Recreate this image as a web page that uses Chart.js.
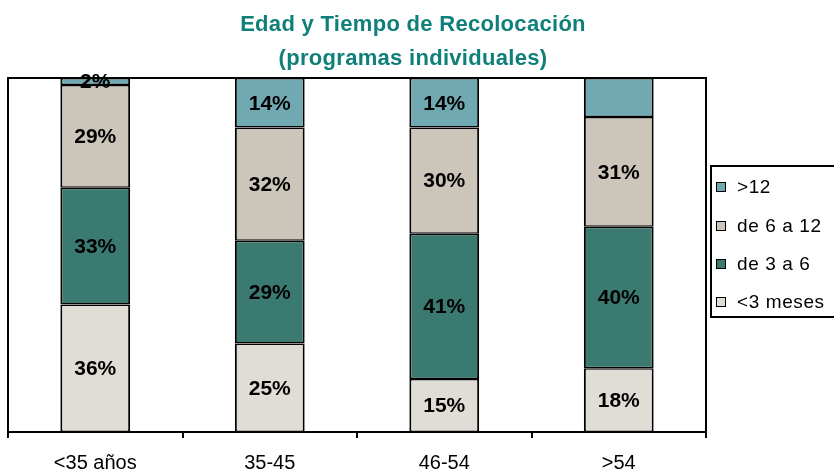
<!DOCTYPE html>
<html>
<head>
<meta charset="utf-8">
<script src="https://cdn.jsdelivr.net/npm/chart.js@4.4.0/dist/chart.umd.min.js"></script>
<style>
  html, body { margin: 0; padding: 0; background: #fff; }
  #wrap { width: 834px; height: 471px; }
</style>
</head>
<body>
<div id="wrap"><canvas id="recolocChart" width="834" height="471"></canvas></div>
<script>
// datos
const categorias = ['<35 años', '35-45', '46-54', '>54'];
const menos3Meses = [36, 25, 15, 18];
const de3a6 = [33, 29, 41, 40];
const de6a12 = [29, 32, 30, 31];
const mas12 = [2, 14, 14, 11];
const mas12ConEtiqueta = [true, true, true, false]; // el ultimo tramo no lleva etiqueta
const titulo = ['Edad y Tiempo de Recolocación', '(programas individuales)'];

const FONT = '"Liberation Sans", Arial, sans-serif';

// ----- plugin: titulo, marco, etiquetas y leyenda ----- //
const decorPlugin = {
  id: 'decor',
  afterDatasetsDraw(chart) {
    const ctx = chart.ctx;
    const a = chart.chartArea;

    // marco del area de trazado
    ctx.save();
    ctx.strokeStyle = '#000';
    ctx.lineWidth = 2;
    ctx.strokeRect(a.left, a.top, a.right - a.left, a.bottom - a.top);
    ctx.restore();

    // etiquetas de porcentaje
    ctx.save();
    ctx.font = 'bold 21px ' + FONT;
    ctx.fillStyle = '#000';
    ctx.textAlign = 'center';
    ctx.textBaseline = 'middle';
    chart.data.datasets.forEach(function(ds, i) {
      var meta = chart.getDatasetMeta(i);
      meta.data.forEach(function(el, j) {
        if (ds.showLabel && !ds.showLabel[j]) return;
        var v = ds.data[j];
        ctx.fillText(v + '%', el.x, (el.y + el.base) / 2 + 1);
      });
    });
    ctx.restore();
  },
  afterDraw(chart) {
    const ctx = chart.ctx;

    // titulo
    ctx.save();
    ctx.font = 'bold 22px ' + FONT;
    ctx.fillStyle = '#0f7f79';
    ctx.textAlign = 'center';
    ctx.textBaseline = 'middle';
    if ('letterSpacing' in ctx) ctx.letterSpacing = '0.3px';
    ctx.fillText(titulo[0], 413, 25);
    ctx.fillText(titulo[1], 413, 59);
    ctx.restore();

    // leyenda (orden inverso al apilado)
    ctx.save();
    ctx.strokeStyle = '#000';
    ctx.lineWidth = 2;
    ctx.strokeRect(711, 166, 140, 151);
    ctx.font = '19px ' + FONT;
    if ('letterSpacing' in ctx) ctx.letterSpacing = '0.6px';
    ctx.textBaseline = 'middle';
    ctx.textAlign = 'left';
    var rowsY = [187, 226, 264, 302];
    var sets = chart.data.datasets.slice().reverse();
    sets.forEach(function(ds, k) {
      var y = rowsY[k];
      ctx.fillStyle = ds.backgroundColor;
      ctx.fillRect(716, y - 5, 10, 10);
      ctx.lineWidth = 1;
      ctx.strokeRect(716.5, y - 4.5, 9, 9);
      ctx.fillStyle = '#000';
      ctx.fillText(ds.label, 737, y + 1);
    });
    ctx.restore();
  }
};

var barBorder = { left: 2, right: 2, top: 1.5, bottom: 1.5 };

var ctx = document.getElementById('recolocChart').getContext('2d');
var myChart = new Chart(ctx, {
  type: 'bar',
  data: {
    labels: categorias,
    datasets: [
      { label: '<3 meses', data: menos3Meses, backgroundColor: '#e0ddd6', borderColor: '#000', borderWidth: barBorder },
      { label: 'de 3 a 6', data: de3a6, backgroundColor: '#3b7a70', borderColor: '#000', borderWidth: barBorder },
      { label: 'de 6 a 12', data: de6a12, backgroundColor: '#cbc5ba', borderColor: '#000', borderWidth: barBorder },
      { label: '>12', data: mas12, showLabel: mas12ConEtiqueta, backgroundColor: '#71a9b3', borderColor: '#000', borderWidth: barBorder }
    ]
  },
  options: {
    responsive: false,
    animation: false,
    layout: { padding: { left: 8, right: 128, top: 78, bottom: 0 } },
    datasets: { bar: { barPercentage: 0.4, categoryPercentage: 1.0, borderSkipped: false } },
    scales: {
      x: {
        stacked: true,
        afterFit: function(s) { s.height = 39; },
        grid: { offset: true, drawOnChartArea: false, drawTicks: true, tickLength: 6, color: '#000', lineWidth: 2 },
        border: { display: true, color: '#000', width: 2 },
        ticks: { color: '#000', padding: 13, font: { family: FONT, size: 20 } }
      },
      y: {
        stacked: true,
        display: false,
        min: 0,
        max: 100
      }
    },
    plugins: {
      legend: { display: false },
      title: { display: false },
      tooltip: { enabled: false }
    }
  },
  plugins: [decorPlugin]
});
</script>
</body>
</html>
